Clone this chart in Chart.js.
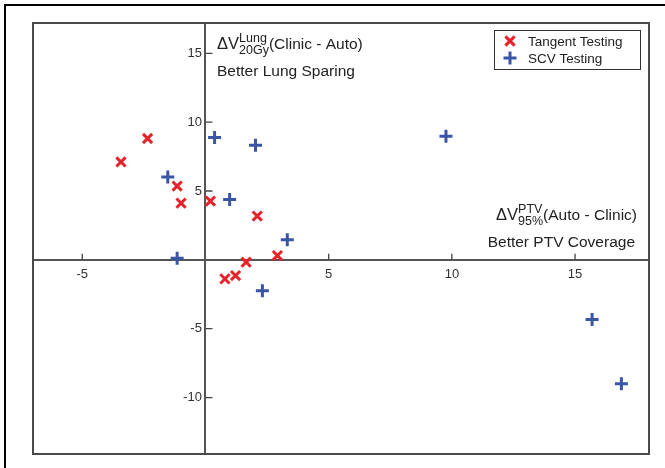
<!DOCTYPE html>
<html><head><meta charset="utf-8">
<script src="https://cdn.jsdelivr.net/npm/chart.js@4/dist/chart.umd.min.js"></script>
<style>html,body{margin:0;padding:0;background:#fff}canvas{display:block}</style>
</head><body>
<canvas id="c" width="665" height="468"></canvas>
<script>
// ---- data ----
const seriesNames = ['Tangent Testing', 'SCV Testing'];
const tangentX = [-3.43, -2.35, -1.15, -0.99, 0.20, 2.10, 1.65, 1.22, 0.79, 2.92];
const tangentY = [7.11, 8.81, 5.36, 4.12, 4.27, 3.18, -0.17, -1.14, -1.38, 0.31];
const scvX = [-1.53, -1.15, 0.37, 0.98, 3.32, 2.31, 2.03, 9.76, 15.69, 16.88];
const scvY = [6.02, 0.12, 8.89, 4.39, 1.46, -2.24, 8.32, 8.97, -4.33, -8.99];
const xTicks = [-5, 5, 10, 15];
const yTicks = [-10, -5, 5, 10, 15];

const RED = '#e8222a', BLUE = '#3a55a5';
const FONT = '"Liberation Sans", Arial, sans-serif';

function pts(xs, ys) { return xs.map((x, i) => ({x: x, y: ys[i]})); }

function drawMarker(ctx, style, x, y, r, color, lw) {
  ctx.save();
  ctx.strokeStyle = color; ctx.lineWidth = lw;
  ctx.beginPath();
  if (style === 'crossRot') {
    const d = r * Math.SQRT1_2;
    ctx.moveTo(x - d, y - d); ctx.lineTo(x + d, y + d);
    ctx.moveTo(x + d, y - d); ctx.lineTo(x - d, y + d);
  } else {
    ctx.moveTo(x - r, y); ctx.lineTo(x + r, y);
    ctx.moveTo(x, y - r); ctx.lineTo(x, y + r);
  }
  ctx.stroke();
  ctx.restore();
}

const MAINF = 16.5, SCRF = 12.5, TAILF = 15.5;
function scriptText(ctx, x, y, main, sup, sub, tail, draw) {
  ctx.font = MAINF + 'px ' + FONT;
  const wm = ctx.measureText(main).width;
  ctx.font = SCRF + 'px ' + FONT;
  const ws = Math.max(ctx.measureText(sup).width, ctx.measureText(sub).width);
  ctx.font = TAILF + 'px ' + FONT;
  const wt = ctx.measureText(tail).width;
  if (draw) {
    ctx.textBaseline = 'alphabetic'; ctx.textAlign = 'left';
    ctx.font = MAINF + 'px ' + FONT; ctx.fillText(main, x, y);
    ctx.font = SCRF + 'px ' + FONT;
    ctx.fillText(sup, x + wm, y - 7.5);
    ctx.fillText(sub, x + wm, y + 5);
    ctx.font = TAILF + 'px ' + FONT; ctx.fillText(tail, x + wm + ws, y);
  }
  return wm + ws + wt;
}

const deco = {
  id: 'deco',
  beforeDraw(chart) {
    const ctx = chart.ctx;
    ctx.save(); ctx.fillStyle = '#fff'; ctx.fillRect(0, 0, chart.width, chart.height); ctx.restore();
  },
  beforeDatasetsDraw(chart) {
    const ctx = chart.ctx, ca = chart.chartArea;
    const xs = chart.scales.x, ys = chart.scales.y;
    const x0 = xs.getPixelForValue(0), y0 = ys.getPixelForValue(0);
    ctx.save();
    ctx.strokeStyle = '#444'; ctx.lineWidth = 1.3;
    ctx.beginPath();
    xTicks.forEach(v => { const p = xs.getPixelForValue(v); ctx.moveTo(p, y0); ctx.lineTo(p, y0 - 6); });
    yTicks.forEach(v => { const p = ys.getPixelForValue(v); ctx.moveTo(x0, p); ctx.lineTo(x0 + 7, p); });
    ctx.stroke();
    ctx.strokeStyle = '#4a4a4a'; ctx.lineWidth = 2;
    ctx.strokeRect(ca.left, ca.top, ca.right - ca.left, ca.bottom - ca.top);
    ctx.restore();
  },
  afterDraw(chart) {
    const ctx = chart.ctx;
    ctx.save();
    ctx.fillStyle = '#000';
    ctx.fillRect(4, 4, 661, 2);
    ctx.fillRect(4, 4, 2, 464);
    ctx.fillStyle = '#222';
    scriptText(ctx, 217, 49, '\u0394V', 'Lung', '20Gy', '(Clinic - Auto)', true);
    ctx.font = TAILF + 'px ' + FONT; ctx.textAlign = 'left'; ctx.textBaseline = 'alphabetic';
    ctx.fillText('Better Lung Sparing', 217, 76);
    const w = scriptText(ctx, 0, 0, '\u0394V', 'PTV', '95%', '(Auto - Clinic)', false);
    scriptText(ctx, 637 - w, 220, '\u0394V', 'PTV', '95%', '(Auto - Clinic)', true);
    ctx.font = TAILF + 'px ' + FONT; ctx.textAlign = 'right';
    ctx.fillText('Better PTV Coverage', 635, 247);
    // legend
    ctx.fillStyle = '#fff'; ctx.fillRect(494, 30, 146, 39);
    ctx.strokeStyle = '#333'; ctx.lineWidth = 1;
    ctx.strokeRect(494.5, 30.5, 146, 39);
    drawMarker(ctx, 'crossRot', 510, 41, 6.5, RED, 3);
    drawMarker(ctx, 'cross', 510, 58, 6.5, BLUE, 3);
    ctx.fillStyle = '#222'; ctx.font = '13.5px ' + FONT; ctx.textAlign = 'left'; ctx.textBaseline = 'middle';
    ctx.fillText(seriesNames[0], 528, 42);
    ctx.fillText(seriesNames[1], 528, 59);
    ctx.restore();
  }
};

const tickFont = {family: FONT, size: 13};
new Chart(document.getElementById('c'), {
  type: 'scatter',
  data: {
    datasets: [
      {label: seriesNames[0], data: pts(tangentX, tangentY), pointStyle: 'crossRot', pointRadius: 6.5,
       borderColor: RED, backgroundColor: RED, borderWidth: 3, pointHoverRadius: 6.5},
      {label: seriesNames[1], data: pts(scvX, scvY), pointStyle: 'cross', pointRadius: 6.5,
       borderColor: BLUE, backgroundColor: BLUE, borderWidth: 3, pointHoverRadius: 6.5}
    ]
  },
  options: {
    responsive: false, devicePixelRatio: 1, animation: false,
    layout: {padding: {left: 33, top: 23, right: 16, bottom: 14}},
    plugins: {legend: {display: false}, tooltip: {enabled: false}},
    scales: {
      x: {
        type: 'linear', min: -7, max: 18, position: {y: 0},
        grid: {display: false, drawTicks: false},
        border: {display: true, color: '#555', width: 2},
        ticks: {font: tickFont, color: '#333', padding: 7},
        afterBuildTicks: s => { s.ticks = xTicks.map(v => ({value: v})); }
      },
      y: {
        type: 'linear', min: -14.1, max: 17.2, position: {x: 0},
        grid: {display: false, drawTicks: false},
        border: {display: true, color: '#555', width: 2},
        ticks: {font: tickFont, color: '#333', callback: v => v + ' '},
        afterBuildTicks: s => { s.ticks = yTicks.map(v => ({value: v})); }
      }
    }
  },
  plugins: [deco]
});
</script>
</body></html>
